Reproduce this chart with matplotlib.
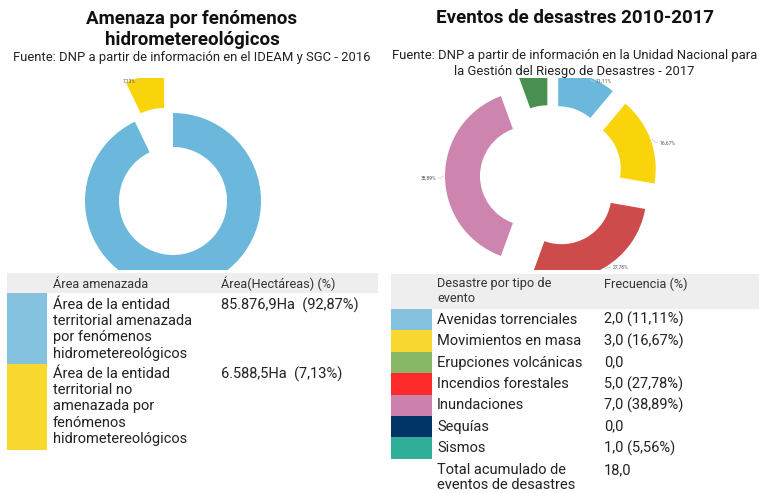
import numpy as np
import matplotlib
matplotlib.use("Agg")
import matplotlib.pyplot as plt
import matplotlib.patches as mp

plt.rcParams['font.family'] = ['Roboto', 'DejaVu Sans']

W, H = 759, 493

# ---- data ----
amenaza_labels = ["Área de la entidad\nterritorial amenazada\npor fenómenos\nhidrometereológicos",
                  "Área de la entidad\nterritorial no\namenazada por\nfenómenos\nhidrometereológicos"]
amenaza_ha = [85876.9, 6588.5]
amenaza_pct = [92.87, 7.13]

eventos = ["Avenidas torrenciales", "Movimientos en masa", "Erupciones volcánicas",
           "Incendios forestales", "Inundaciones", "Sequías", "Sismos"]
frecuencia = [2.0, 3.0, 0.0, 5.0, 7.0, 0.0, 1.0]

# colours
amenaza_pie_colors = ['#6bb8dc', '#f9d40a']
amenaza_swatch = ['#85c2e0', '#f9d92f']
eventos_pie_colors = ['#6bb8dc', '#f9d40a', '#4a8f52', '#cd4b4b', '#cd85b0', '#003366', '#4a8f52']
eventos_swatch = ['#85c2e0', '#f9d92f', '#86b865', '#ff2b2b', '#cc80ae', '#003366', '#2faf98']

BODY = 10.5
HEAD = 9.2
SUB = 9.4
TITLE = 13.5


def fmt_es(v, dec=1):
    s = f"{v:,.{dec}f}"
    return s.replace(",", "X").replace(".", ",").replace("X", ".")


fig = plt.figure(figsize=(W / 100, H / 100), dpi=100)


def px_axes(x0, y0, x1, y1):
    # axes from pixel box (top-left origin), data units = pixels, y up
    return fig.add_axes([x0 / W, 1 - y1 / H, (x1 - x0) / W, (y1 - y0) / H])


def pct_label(ax, w, r, text):
    ang = np.deg2rad((w.theta1 + w.theta2) / 2)
    cx, cy = w.center
    ex, ey = cx + r * np.cos(ang), cy + r * np.sin(ang)
    sgn = 1 if np.cos(ang) >= -0.01 else -1
    tx, ty = ex + sgn * 7, ey - (2 + 3 * np.sin(ang))
    ax.plot([ex + 1.5 * np.cos(ang), tx - sgn * 2, tx], [ey + 1.5 * np.sin(ang), ty, ty],
            color='#c8c8c8', lw=0.5, clip_on=True)
    ax.text(tx + sgn * 1.5, ty, text, fontsize=3.6, color='#555555',
            ha='left' if sgn > 0 else 'right', va='center', clip_on=True)


# ---- left donut ----
RL = 88
axl = px_axes(0, 78, 380, 270)
wl, _ = axl.pie(amenaza_pct, radius=RL, center=(173, H - 201), startangle=90,
                counterclock=False, colors=amenaza_pie_colors, explode=[0, 40],
                wedgeprops=dict(width=34, linewidth=0))
for w in wl:
    w.set_clip_on(True)
    w.set_clip_path(axl.patch)
axl.set_xlim(0, 380)
axl.set_ylim(H - 270, H - 78)
axl.set_aspect('equal')
axl.axis('off')
pct_label(axl, wl[1], RL, fmt_es(amenaza_pct[1], 2) + "%")

# ---- right donut ----
vals = [v for v in frecuencia if v > 0]
cols = [c for v, c in zip(frecuencia, eventos_pie_colors) if v > 0]
total = sum(frecuencia)
axr = px_axes(380, 78, 759, 270)
R = 85
wr, _ = axr.pie(vals, radius=R, center=(551 - 380, H - 176), startangle=90,
                counterclock=False, colors=cols, explode=[21] * len(vals),
                wedgeprops=dict(width=35, linewidth=0))
for w in wr:
    w.set_clip_on(True)
    w.set_clip_path(axr.patch)
axr.set_xlim(0, 379)
axr.set_ylim(H - 270, H - 78)
axr.set_aspect('equal')
axr.axis('off')
for w, v in zip(wr, vals):
    pct_label(axr, w, R, fmt_es(v / total * 100, 2) + "%")

# ---- overlay for titles and tables (pixel coordinates, y down) ----
ov = fig.add_axes([0, 0, 1, 1])
ov.set_xlim(0, W)
ov.set_ylim(H, 0)
ov.axis('off')
ov.patch.set_alpha(0)

ov.text(192, 19, "Amenaza por fenómenos", fontsize=TITLE, fontweight='bold', ha='center', va='center', color='#111111')
ov.text(192, 40, "hidrometereológicos", fontsize=TITLE, fontweight='bold', ha='center', va='center', color='#111111')
ov.text(192, 57, "Fuente: DNP a partir de información en el IDEAM y SGC - 2016", fontsize=SUB,
        ha='center', va='center', color='#222222')

ov.text(575, 18, "Eventos de desastres 2010-2017", fontsize=TITLE, fontweight='bold', ha='center', va='center', color='#111111')
ov.text(575, 55, "Fuente: DNP a partir de información en la Unidad Nacional para", fontsize=SUB,
        ha='center', va='center', color='#222222')
ov.text(574, 71, "la Gestión del Riesgo de Desastres - 2017", fontsize=SUB,
        ha='center', va='center', color='#222222')

# left table
ov.add_patch(mp.Rectangle((7, 273), 371, 20, color='#eeeeee', lw=0))
ov.text(53, 284, "Área amenazada", fontsize=HEAD, ha='left', va='center', color='#333333')
ov.text(221, 284, "Área(Hectáreas) (%)", fontsize=HEAD, ha='left', va='center', color='#333333')
row_top = [293, 364]
row_bot = [364, 450]
first_line = [305, 374]
pitch = 16.2
for i in range(len(amenaza_labels)):
    ov.add_patch(mp.Rectangle((7, row_top[i]), 40, row_bot[i] - row_top[i], color=amenaza_swatch[i], lw=0))
    for k, line in enumerate(amenaza_labels[i].split("\n")):
        ov.text(53, first_line[i] + k * pitch, line, fontsize=BODY, ha='left', va='center', color='#222222')
    ov.text(221, first_line[i], f"{fmt_es(amenaza_ha[i])}Ha  ({fmt_es(amenaza_pct[i], 2)}%)",
            fontsize=BODY, ha='left', va='center', color='#222222')

# right table
ov.add_patch(mp.Rectangle((391, 274), 368, 35, color='#eeeeee', lw=0))
ov.text(437, 284, "Desastre por tipo de", fontsize=HEAD, ha='left', va='center', color='#333333')
ov.text(437, 298, "evento", fontsize=HEAD, ha='left', va='center', color='#333333')
ov.text(604, 284, "Frecuencia (%)", fontsize=HEAD, ha='left', va='center', color='#333333')
rh = 21.4
for i, (name, f) in enumerate(zip(eventos, frecuencia)):
    y0 = 309 + i * rh
    ov.add_patch(mp.Rectangle((391, y0), 41, rh, color=eventos_swatch[i], lw=0))
    ov.text(437, y0 + rh / 2, name, fontsize=BODY, ha='left', va='center', color='#222222')
    val = fmt_es(f) if f == 0 else f"{fmt_es(f)} ({fmt_es(f / total * 100, 2)}%)"
    ov.text(604, y0 + rh / 2, val, fontsize=BODY, ha='left', va='center', color='#222222')
y0 = 309 + len(eventos) * rh
ov.text(437, y0 + 11, "Total acumulado de", fontsize=BODY, ha='left', va='center', color='#222222')
ov.text(437, y0 + 26, "eventos de desastres", fontsize=BODY, ha='left', va='center', color='#222222')
ov.text(604, y0 + 11, fmt_es(total), fontsize=BODY, ha='left', va='center', color='#222222')

fig.savefig("out.png", dpi=100)
